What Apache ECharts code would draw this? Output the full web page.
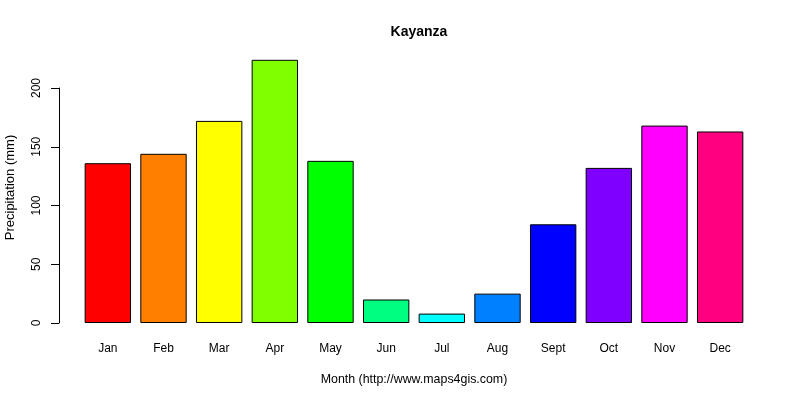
<!DOCTYPE html>
<html>
<head>
<meta charset="utf-8">
<script src="https://cdn.jsdelivr.net/npm/echarts@6/dist/echarts.min.js"></script>
<style>
  html, body { margin: 0; padding: 0; background: #fff; }
  #chart { width: 800px; height: 400px; }
</style>
</head>
<body>
<div id="chart"></div>
<script>
const months = ['Jan', 'Feb', 'Mar', 'Apr', 'May', 'Jun', 'Jul', 'Aug', 'Sept', 'Oct', 'Nov', 'Dec'];
const precip = [136, 144, 172, 224, 138, 20, 8, 25, 84, 132, 168, 163];
const barColors = ['#FF0000', '#FF8000', '#FFFF00', '#80FF00', '#00FF00', '#00FF80',
  '#00FFFF', '#0080FF', '#0000FF', '#8000FF', '#FF00FF', '#FF0080'];
const yTicks = [0, 50, 100, 150, 200];

const font = 'Liberation Sans, Arial, sans-serif';
const chart = echarts.init(document.getElementById('chart'));

chart.setOption({
  animation: false,
  title: {
    text: 'Kayanza',
    left: 414, top: 20, textAlign: 'center',
    textStyle: { fontFamily: font, fontSize: 14, fontWeight: 'bold', color: '#000' }
  },
  grid: { left: 80, right: 52, top: 88, bottom: 77, outerBoundsMode: 'none', containLabel: false },
  xAxis: {
    type: 'category',
    data: months,
    name: 'Month (http://www.maps4gis.com)',
    nameLocation: 'middle',
    nameGap: 51,
    nameTextStyle: { fontFamily: font, fontSize: 12.4, color: '#000' },
    axisLine: { show: false },
    axisTick: { show: false },
    axisLabel: { fontFamily: font, fontSize: 12, color: '#000', margin: 20 }
  },
  yAxis: {
    type: 'value',
    min: yTicks[0],
    max: yTicks[yTicks.length - 1],
    interval: 50,
    offset: 21,
    name: 'Precipitation (mm)',
    nameLocation: 'middle',
    nameGap: 42,
    nameTextStyle: { fontFamily: font, fontSize: 13, color: '#000', padding: [0, 0, 0, 36] },
    axisLine: { show: true, lineStyle: { color: '#000', width: 1 } },
    axisTick: { show: true, length: 8, lineStyle: { color: '#000' } },
    axisLabel: { fontFamily: font, fontSize: 12, color: '#000', rotate: 90, margin: 16 },
    splitLine: { show: false }
  },
  series: [{
    type: 'bar',
    clip: false,
    barWidth: '83.3%',
    data: precip.map((v, i) => ({
      value: v,
      itemStyle: { color: barColors[i], borderColor: '#000', borderWidth: 1 }
    }))
  }]
});
</script>
</body>
</html>
